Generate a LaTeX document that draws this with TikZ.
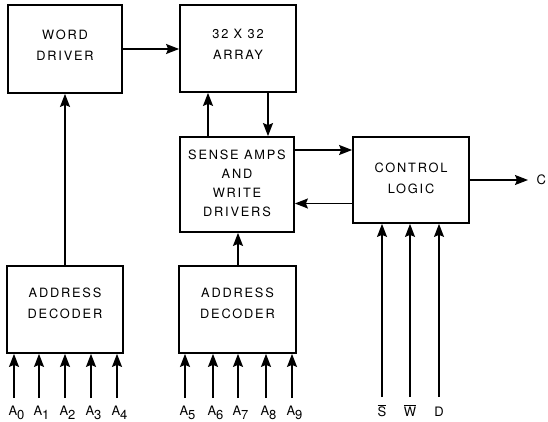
\documentclass[tikz,border=0pt]{standalone}
\usepackage{fontspec}
\setmainfont{TeX Gyre Heros}[LetterSpace=14]
\usetikzlibrary{arrows.meta}
\begin{document}
\begin{tikzpicture}[x=1pt,y=-1pt,
  blk/.style={draw,line width=1.8pt,inner sep=0pt},
  txt/.style={align=center,font=\fontsize{12.8}{21}\selectfont,inner sep=0pt},
  txtb/.style={align=center,font=\fontsize{12.8}{19}\selectfont,inner sep=0pt},
  arr/.style={line width=1.3pt,-{Stealth[length=13pt,width=10pt,inset=2pt]}},
  lbl/.style={font=\fontsize{13}{14}\selectfont,inner sep=0pt}]
\useasboundingbox (0,0) rectangle (548,422);
\node[blk,minimum width=114pt,minimum height=88pt] (wd) at (65,49)
  [label={[txt,yshift=4pt]center:WORD\\DRIVER}] {};
\node[blk,minimum width=116pt,minimum height=87pt] (ar) at (238,48.5)
  [label={[txt,yshift=4.5pt]center:32 X 32\\ARRAY}] {};
\node[blk,minimum width=114pt,minimum height=95pt] (sa) at (237,184.5)
  [label={[txtb,yshift=1pt]center:SENSE AMPS\\AND\\WRITE\\DRIVERS}] {};
\node[blk,minimum width=116pt,minimum height=86pt] (cl) at (411,180)
  [label={[txt,yshift=2pt]center:CONTROL\\LOGIC}] {};
\node[blk,minimum width=116pt,minimum height=87pt] (ad1) at (65,309.5)
  [label={[txt,yshift=6pt]center:ADDRESS\\DECODER}] {};
\node[blk,minimum width=117pt,minimum height=87pt] (ad2) at (237.5,309.5)
  [label={[txt,yshift=6pt]center:ADDRESS\\DECODER}] {};
% connections
\draw[arr] (wd.east) -- (wd.east -| ar.west);
\draw[arr] ([xshift=-29pt]sa.north) -- ([xshift=-29pt]sa.north |- ar.south);
\draw[arr] ([xshift=30pt]ar.south) -- ([xshift=30pt]ar.south |- sa.north);
\draw[arr] ([yshift=34.5pt]sa.east) -- ([yshift=34.5pt]sa.east -| cl.west);
\draw[arr] ([yshift=-23.5pt]cl.west) -- ([yshift=-23.5pt]cl.west -| sa.east);
\coordinate (out) at (528,180);
\draw[arr] (cl.east) -- (out);
\node[lbl,anchor=west] (c) at (536.5,180) {C};
\draw[arr] (ad1.north) -- (ad1.north |- wd.south);
\draw[arr] ([xshift=0.5pt]ad2.north) -- ([xshift=0.5pt]ad2.north |- sa.south);
% address inputs
\foreach \i/\x in {0/14,1/39,2/65,3/91,4/117}{
  \coordinate (in\i) at (\x,398);
  \draw[arr] (in\i) -- (in\i |- ad1.south);
  \node[lbl,anchor=base] (lab\i) at (\x+2.5,415) {A\raisebox{-4pt}{\i}};
}
\foreach \i/\x in {5/185,6/213,7/238,8/266,9/292}{
  \coordinate (in\i) at (\x,398);
  \draw[arr] (in\i) -- (in\i |- ad2.south);
  \node[lbl,anchor=base] (lab\i) at (\x+2.5,415) {A\raisebox{-4pt}{\i}};
}
% control inputs
\foreach \n/\x/\t in {s/382/$\overline{\hbox{S}}$,w/410/$\overline{\hbox{W}}$,d/439/D}{
  \coordinate (c\n) at (\x,397);
  \draw[arr] (c\n) -- (c\n |- cl.south);
  \node[lbl,anchor=base] (l\n) at (\x,416) {\t};
}
\end{tikzpicture}
\end{document}
